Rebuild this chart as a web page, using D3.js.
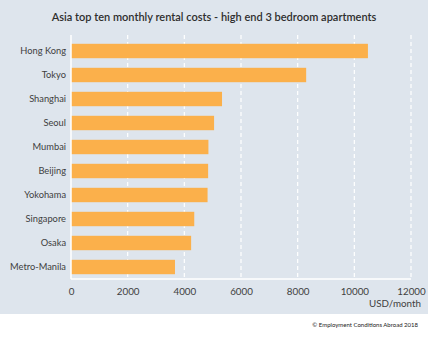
<!DOCTYPE html>
<html>
<head>
<meta charset="utf-8">
<script src="https://cdn.jsdelivr.net/npm/d3@7"></script>
<style>
  body { margin: 0; background: #fff; }
  text { font-family: Lato, "Open Sans", sans-serif; }
</style>
</head>
<body>
<svg id="chart" width="428" height="337"></svg>
<script>
// data (USD per month)
var cities = ["Hong Kong", "Tokyo", "Shanghai", "Seoul", "Mumbai", "Beijing", "Yokohama", "Singapore", "Osaka", "Metro-Manila"]
var rents = [10480, 8300, 5330, 5050, 4850, 4840, 4820, 4350, 4240, 3670]
var xTicks = [0, 2000, 4000, 6000, 8000, 10000, 12000]

var svg = d3.select("#chart")
var plotLeft = 71, plotRight = 411, plotTop = 39, plotBottom = 279

// panel background
svg.append("rect")
  .attr("x", 0).attr("y", 0)
  .attr("width", 428).attr("height", 314)
  .attr("fill", "#dee5ed")

var x = d3.scaleLinear().domain([0, 12000]).range([plotLeft, plotRight])
var y = d3.scaleBand().domain(cities).range([plotTop, plotBottom]).paddingInner(0.4).paddingOuter(0.2)

// dashed white gridlines
svg.selectAll("gridline")
  .data(xTicks.slice(1))
  .enter()
  .append("line")
    .attr("x1", function(d){ return x(d) })
    .attr("x2", function(d){ return x(d) })
    .attr("y1", plotTop - 4)
    .attr("y2", plotBottom)
    .attr("stroke", "#ffffff")
    .attr("stroke-width", 1.2)
    .attr("stroke-dasharray", "4,3")

// bars
svg.selectAll("bars")
  .data(cities)
  .enter()
  .append("rect")
    .attr("x", x(0))
    .attr("y", function(d){ return y(d) })
    .attr("width", function(d,i){ return x(rents[i]) - x(0) })
    .attr("height", y.bandwidth())
    .attr("fill", "#fbb04b")

// axis lines (solid white)
svg.append("line")
  .attr("x1", plotLeft).attr("x2", plotLeft)
  .attr("y1", plotTop - 4).attr("y2", plotBottom)
  .attr("stroke", "#fff").attr("stroke-width", 1.5)
svg.append("line")
  .attr("x1", plotLeft).attr("x2", plotRight)
  .attr("y1", plotBottom).attr("y2", plotBottom)
  .attr("stroke", "#fff").attr("stroke-width", 1.5)

// y axis labels
var yAxis = svg.append("g")
  .attr("transform", "translate(" + (plotLeft - 5) + ",0)")
  .call(d3.axisLeft(y).tickSize(0).tickPadding(0))
yAxis.select(".domain").remove()
yAxis.selectAll("text")
  .attr("fill", "#404040")
  .style("font-size", "9.3px")
  .style("font-family", "Lato, sans-serif")

// x axis labels
var xAxis = svg.append("g")
  .attr("transform", "translate(0," + plotBottom + ")")
  .call(d3.axisBottom(x).tickValues(xTicks).tickFormat(d3.format("d")).tickSize(0).tickPadding(9))
xAxis.select(".domain").remove()
xAxis.selectAll("text")
  .attr("fill", "#404040")
  .style("font-size", "9.8px")
  .style("font-family", "Lato, sans-serif")

// axis unit
svg.append("text")
  .attr("x", 421)
  .attr("y", 307)
  .attr("text-anchor", "end")
  .attr("fill", "#404040")
  .style("font-size", "9.8px")
  .text("USD/month")

// title
svg.append("text")
  .attr("x", 214)
  .attr("y", 21)
  .attr("text-anchor", "middle")
  .attr("fill", "#2e2e2e")
  .style("font-size", "11px")
  .style("font-weight", "600")
  .text("Asia top ten monthly rental costs - high end 3 bedroom apartments")

// source
svg.append("text")
  .attr("x", 418)
  .attr("y", 327)
  .attr("text-anchor", "end")
  .attr("fill", "#222")
  .style("font-size", "6px")
  .text("© Employment Conditions Abroad 2018")
</script>
</body>
</html>
